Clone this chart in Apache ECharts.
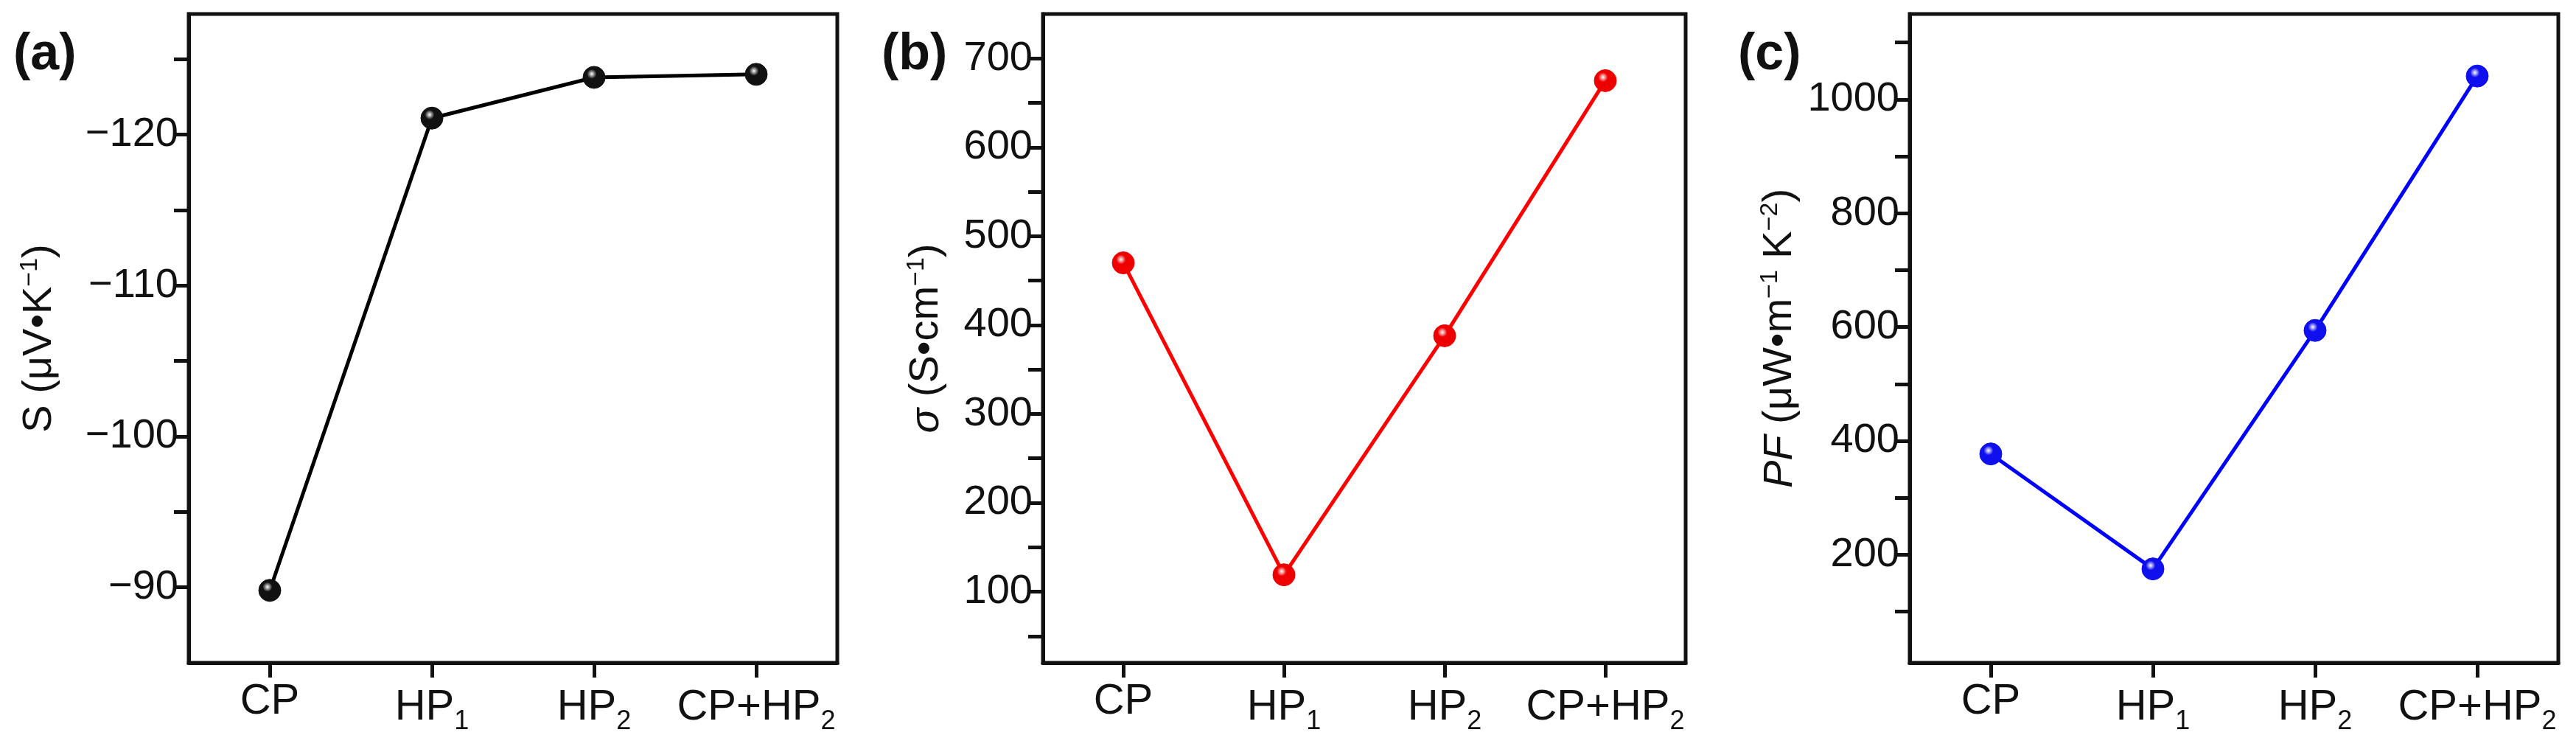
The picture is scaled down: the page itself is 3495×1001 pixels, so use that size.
<!DOCTYPE html>
<html><head><meta charset="utf-8">
<script src="https://cdn.jsdelivr.net/npm/echarts@6/dist/echarts.min.js"></script>
<style>html,body{margin:0;padding:0;background:#fff}#c{width:3495px;height:1001px}</style>
</head><body><div id="c"></div>
<script>
const categories = ['CP', 'HP1', 'HP2', 'CP+HP2'];
const seebeck = [-89.8, -121.1, -123.8, -124.0];
const sigma = [470, 119, 388, 675];
const pf = [377, 175, 594, 1041];
const sTicksMajor = [-90, -100, -110, -120];
const sTicksAll = [-90, -95, -100, -105, -110, -115, -120, -125];
const sigTicksMajor = [100, 200, 300, 400, 500, 600, 700];
const sigTicksAll = [50, 100, 150, 200, 250, 300, 350, 400, 450, 500, 550, 600, 650, 700];
const pfTicksMajor = [200, 400, 600, 800, 1000];
const pfTicksAll = [100, 200, 300, 400, 500, 600, 700, 800, 900, 1000, 1100];

const chart = echarts.init(document.getElementById('c'));
const FF = 'Arial, "Liberation Sans", sans-serif';
const grids = [
  {left: 256, width: 880, top: 19, height: 880},
  {left: 1415, width: 872, top: 19, height: 880},
  {left: 2591, width: 880, top: 19, height: 880}
];
const catLabel = {
  interval: 0, fontFamily: FF, fontSize: 58, color: '#111', margin: 24,
  formatter: v => {
    const m = v.match(/^(.*HP)(\d)$/);
    return m ? '{n|' + m[1] + '}{s|' + m[2] + '}' : '{n|' + v + '}';
  },
  rich: {n: {fontFamily: FF, fontSize: 58, color: '#111'}, s: {fontFamily: FF, fontSize: 36, color: '#111', padding: [38, 0, 0, 0]}}
};
function xAxis(i) {
  return {type: 'category', gridIndex: i, data: categories, boundaryGap: true,
    axisLine: {lineStyle: {color: '#111', width: 5}},
    axisTick: {show: true, interval: 0, alignWithLabel: true, length: 20, lineStyle: {width: 5, color: '#111'}, inside: false},
    axisLabel: catLabel, splitLine: {show: false}};
}
function yAxis(i, min, max, major, all, nameRich, inverse) {
  return {type: 'value', gridIndex: i, min: min, max: max, inverse: !!inverse,
    axisLine: {show: true, lineStyle: {color: '#111', width: 5}},
    axisTick: {show: true, customValues: all, length: 20, lineStyle: {width: 5, color: '#111'}},
    axisLabel: {customValues: major, fontFamily: FF, fontSize: 56, color: '#111', margin: 14,
      formatter: v => String(v).replace('-', '\u2212')},
    splitLine: {show: false},
    name: nameRich.text, nameLocation: 'middle', nameGap: nameRich.gap, nameRotate: 90,
    nameTextStyle: {fontFamily: FF, fontSize: 56, color: '#111', rich: nameRich.rich}};
}
const sub = {fontFamily: FF, fontSize: 34, color: '#111', padding: [0, 0, 26, 0]};
const nrm = {fontFamily: FF, fontSize: 56, color: '#111'};
const ita = {fontFamily: FF, fontSize: 56, color: '#111', fontStyle: 'italic'};
function ball(c) {
  return {type: 'radial', x: 0.4, y: 0.35, r: 0.7,
    colorStops: [{offset: 0, color: '#fff'}, {offset: 0.3, color: c}, {offset: 1, color: c}]};
}
function series(i, data, color, dark) {
  return {type: 'line', xAxisIndex: i, yAxisIndex: i, data: data, symbol: 'circle', symbolSize: 30,
    lineStyle: {color: color, width: 5}, itemStyle: {color: ball(dark), borderColor: dark, borderWidth: 1}, z: 3};
}
chart.setOption({
  animation: false,
  grid: grids.map(g => Object.assign({show: true, borderColor: '#111', borderWidth: 5}, g)),
  xAxis: [xAxis(0), xAxis(1), xAxis(2)],
  yAxis: [
    yAxis(0, -128, -85, sTicksMajor, sTicksAll, {text: '{n|S (\u03bcV\u2022K}{s|\u22121}{n|)}', gap: 172, rich: {n: nrm, s: sub}}, true),
    yAxis(1, 20, 750, sigTicksMajor, sigTicksAll, {text: '{i|\u03c3}{n| (S\u2022cm}{s|\u22121}{n|)}', gap: 128, rich: {n: nrm, i: ita, s: sub}}),
    yAxis(2, 10, 1150, pfTicksMajor, pfTicksAll, {text: '{i|PF}{n| (\u03bcW\u2022m}{s|\u22121}{n| K}{s|\u22122}{n|)}', gap: 146, rich: {n: nrm, i: ita, s: sub}})
  ],
  series: [series(0, seebeck, '#000', '#111'), series(1, sigma, '#ff0000', '#ee0000'), series(2, pf, '#0000ff', '#1010ee')],
  graphic: [
    {type: 'text', left: 18, top: 40, style: {text: '(a)', font: 'bold 70px ' + FF, fill: '#111'}},
    {type: 'text', left: 1196, top: 40, style: {text: '(b)', font: 'bold 70px ' + FF, fill: '#111'}},
    {type: 'text', left: 2358, top: 40, style: {text: '(c)', font: 'bold 70px ' + FF, fill: '#111'}}
  ]
});
</script></body></html>
